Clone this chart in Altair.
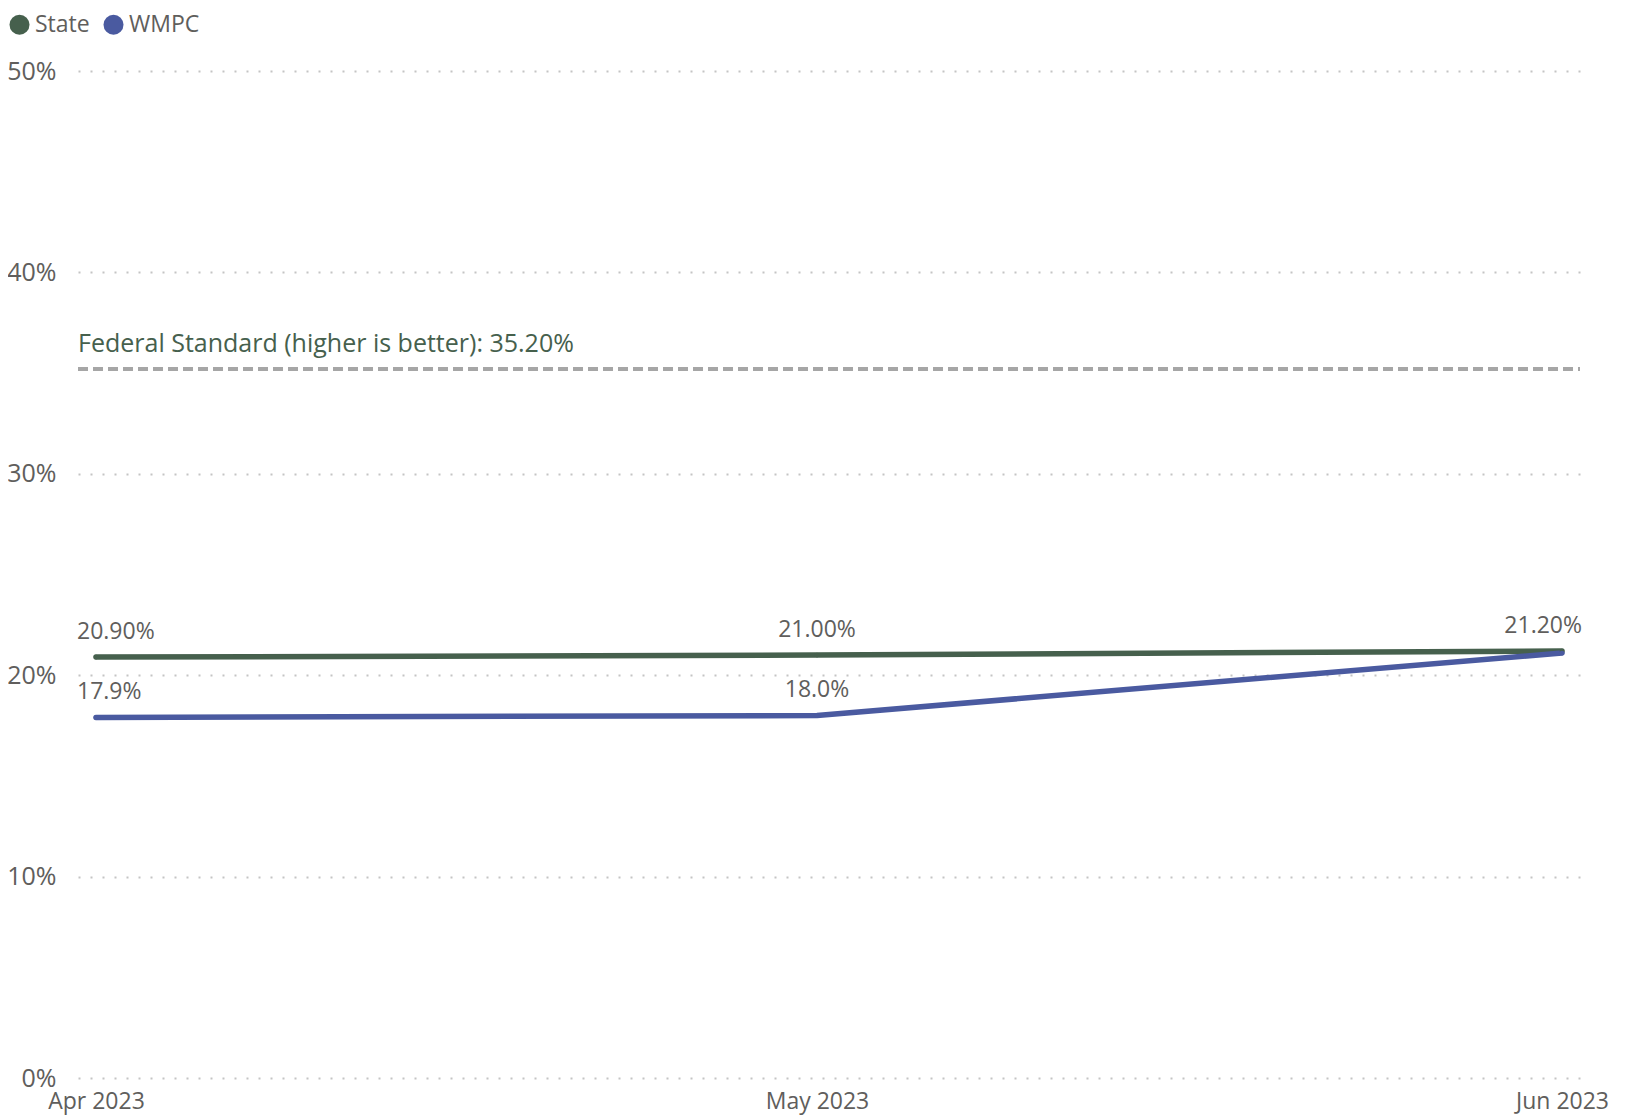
import altair as alt
import pandas as pd

months = ["2023-04-01T00:00:00", "2023-05-01T00:00:00", "2023-06-01T00:00:00"]
state_vals = [0.209, 0.210, 0.212]
wmpc_vals = [0.179, 0.180, 0.211]
state_labels = ["20.90%", "21.00%", "21.20%"]
wmpc_labels = ["17.9%", "18.0%", ""]
positions = ["first", "mid", "last"]
federal_value = 0.352
federal_text = "Federal Standard (higher is better): 35.20%"

GREEN = "#46604D"
BLUE = "#4A5AA0"
GREY_TXT = "#605E5C"
FONT = "Segoe UI, Open Sans, sans-serif"

rows = []
for m, v, l, p in zip(months, state_vals, state_labels, positions):
    rows.append({"date": m, "series": "State", "value": v, "label": l, "pos": p})
for m, v, l, p in zip(months, wmpc_vals, wmpc_labels, positions):
    rows.append({"date": m, "series": "WMPC", "value": v, "label": l, "pos": p})
df = pd.DataFrame(rows)
fed = pd.DataFrame({"value": [federal_value], "label": [federal_text]})

x_enc = alt.X(
    "date:T",
    title=None,
    scale=alt.Scale(padding=18, nice=False),
    axis=alt.Axis(
        format="%b %Y",
        tickCount={"interval": "month", "step": 1},
        labelFontSize=23,
        labelColor=GREY_TXT,
        labelFont=FONT,
        labelPadding=12,
        labelOverlap=False,
        labelFlush=False,
        labelBound=False,
        domain=False,
        ticks=False,
        grid=False,
    ),
)
y_enc = alt.Y(
    "value:Q",
    title=None,
    scale=alt.Scale(domain=[0, 0.5], nice=False),
    axis=alt.Axis(
        format=".0%",
        values=[0, 0.1, 0.2, 0.3, 0.4, 0.5],
        labelFontSize=25,
        labelColor=GREY_TXT,
        labelFont=FONT,
        labelPadding=22,
        domain=False,
        ticks=False,
        grid=True,
        gridDash=[2, 10],
        gridColor="#c4c4c4",
        gridWidth=2,
    ),
)

color_scale = alt.Scale(domain=["State", "WMPC"], range=[GREEN, BLUE])

base = alt.Chart(df)

lines = base.mark_line(strokeWidth=5.5, strokeCap="round", strokeJoin="round").encode(
    x=x_enc, y=y_enc, color=alt.Color("series:N", scale=color_scale, legend=None)
)

legend_points = base.mark_point(
    filled=True, size=22, opacity=1
).encode(
    x="date:T",
    y="value:Q",
    color=alt.Color(
        "series:N",
        scale=color_scale,
        legend=alt.Legend(
            title=None,
            orient="none",
            legendX=-70,
            legendY=-58,
            direction="horizontal",
            symbolType="circle",
            symbolSize=400,
            symbolOpacity=1,
            labelFontSize=23,
            labelFont=FONT,
            labelColor=GREY_TXT,
            labelOffset=4,
            columnPadding=12,
        ),
    ),
)

def labels(pos, align, dx):
    return base.transform_filter(alt.datum.pos == pos).mark_text(
        align=align, baseline="middle", dx=dx, dy=-25,
        fontSize=23, font=FONT, color=GREY_TXT,
    ).encode(x="date:T", y="value:Q", text="label:N")

fed_rule = alt.Chart(fed).mark_rule(
    color="#a6a6a6", strokeWidth=4, strokeDash=[10, 5]
).encode(y="value:Q", x=alt.value(0), x2=alt.value("width"))

fed_text = alt.Chart(fed).mark_text(
    align="left", baseline="middle", dy=-25, fontSize=25, font=FONT, color=GREEN
).encode(y="value:Q", x=alt.value(0), text="label:N")

chart = alt.layer(
    fed_rule, fed_text, lines, legend_points,
    labels("first", "left", -19),
    labels("mid", "center", 0),
    labels("last", "right", 20),
).resolve_legend(color="independent").properties(
    width=1502,
    height=1007,
    padding={"left": 70, "top": 63, "right": 34, "bottom": 38},
    autosize=alt.AutoSizeParams(type="none"),
).configure(font=FONT).configure_view(stroke=None)

chart.save("out.html", embed_options={"renderer": "svg", "actions": False})
